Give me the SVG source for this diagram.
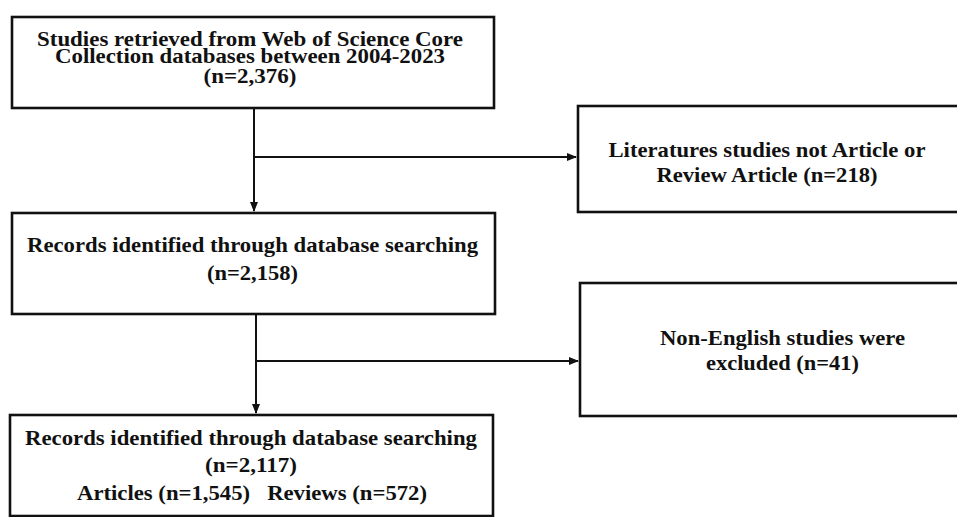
<svg xmlns="http://www.w3.org/2000/svg" width="957" height="517" viewBox="0 0 957 517">
<style>
.box{fill:#fff;stroke:#111;stroke-width:2.6}
.t{font-family:"Liberation Serif","Times New Roman",serif;font-weight:bold;font-size:22px;fill:#111;text-anchor:middle}
.s{font-size:21px}
.c{fill:none;stroke:#111;stroke-width:2}
</style>
<defs>
<marker id="ah" markerWidth="10" markerHeight="8" refX="9" refY="4" orient="auto" markerUnits="userSpaceOnUse">
<path d="M0,0 L10,4 L0,8 Z" fill="#111"/>
</marker>
</defs>
<rect width="957" height="517" fill="#fff"/>
<g id="connectors">
<path class="c" d="M254,108 V211" marker-end="url(#ah)"/>
<path class="c" d="M254,157 H576" marker-end="url(#ah)"/>
<path class="c" d="M256,314 V413" marker-end="url(#ah)"/>
<path class="c" d="M256,361 H578" marker-end="url(#ah)"/>
</g>
<g id="n1">
<rect class="box" x="12" y="17" width="482" height="91"/>
<text class="t s" x="250" y="46" textLength="426" lengthAdjust="spacingAndGlyphs">Studies retrieved from Web of Science Core</text>
<text class="t s" x="250" y="63" textLength="390" lengthAdjust="spacingAndGlyphs">Collection databases between 2004-2023</text>
<text class="t s" x="250" y="83" textLength="93" lengthAdjust="spacingAndGlyphs">(n=2,376)</text>
</g>
<g id="n2">
<rect class="box" x="578" y="106" width="400" height="106"/>
<text class="t" x="767" y="157" textLength="317" lengthAdjust="spacingAndGlyphs">Literatures studies not Article or</text>
<text class="t" x="767" y="182" textLength="221" lengthAdjust="spacingAndGlyphs">Review Article (n=218)</text>
</g>
<g id="n3">
<rect class="box" x="12" y="213" width="483" height="101"/>
<text class="t" x="252.5" y="252" textLength="451" lengthAdjust="spacingAndGlyphs">Records identified through database searching</text>
<text class="t" x="252.5" y="280" textLength="91" lengthAdjust="spacingAndGlyphs">(n=2,158)</text>
</g>
<g id="n4">
<rect class="box" x="580" y="283" width="400" height="133"/>
<text class="t" x="782.5" y="345" textLength="245" lengthAdjust="spacingAndGlyphs">Non-English studies were</text>
<text class="t" x="782.5" y="370" textLength="153" lengthAdjust="spacingAndGlyphs">excluded (n=41)</text>
</g>
<g id="n5">
<rect class="box" x="10" y="415" width="483" height="101"/>
<text class="t" x="251" y="445" textLength="452" lengthAdjust="spacingAndGlyphs">Records identified through database searching</text>
<text class="t" x="251" y="472" textLength="92" lengthAdjust="spacingAndGlyphs">(n=2,117)</text>
<text class="t" x="252" y="500" textLength="350" lengthAdjust="spacingAndGlyphs" xml:space="preserve">Articles (n=1,545)   Reviews (n=572)</text>
</g>
</svg>
